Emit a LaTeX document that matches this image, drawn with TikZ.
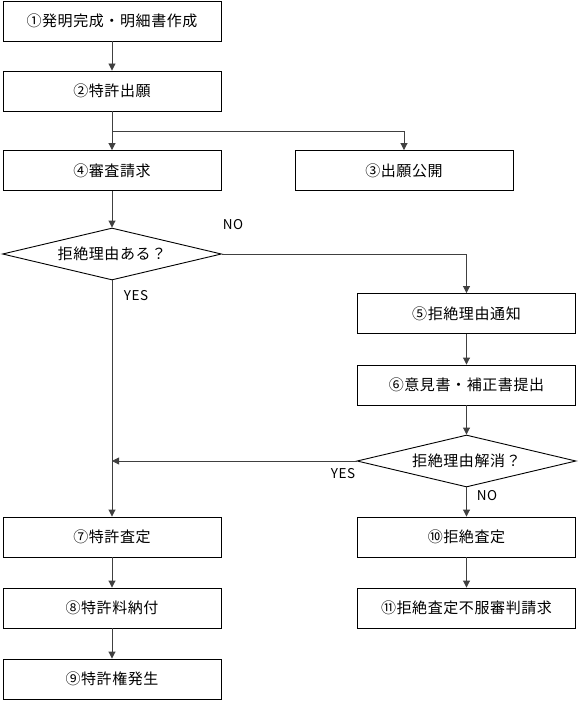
\documentclass[tikz,border=0pt]{standalone}
\usepackage{fontspec}
\setmainfont{Noto Sans CJK JP}[LetterSpace=4]
\usetikzlibrary{shapes.geometric,arrows.meta}

\begin{document}
\begin{tikzpicture}[x=1pt,y=-1pt,
                    stepbox/.style={rectangle, draw=black, line width=0.9pt, minimum width=218pt, minimum height=40pt, inner sep=0pt, font=\fontsize{15}{17}\selectfont},
                    askbox/.style={diamond, draw=black, line width=0.9pt, aspect=4, minimum width=219pt, minimum height=52pt, inner sep=0pt, font=\fontsize{15}{17}\selectfont},
                    answer/.style={inner sep=0pt, font=\fontsize{13.5}{15}\selectfont},
                    flow/.style={draw=black!75, line width=0.9pt, -{Triangle[width=7pt,length=7pt]}},
                ]
                    \useasboundingbox (0,0) rectangle (578,701);
                    %Nodes
                    \node[stepbox](invent) at (112,21) {①発明完成・明細書作成};
                    \node[stepbox](apply) at (112,91) {②特許出願};
                    \node[stepbox](request) at (112,170.5) {④審査請求};
                    \node[stepbox](publish) at (404,170.5) {③出願公開};
                    \node[askbox](reason) at (112,254) {拒絶理由ある？};
                    \node[stepbox](notice) at (466.5,313.5) {⑤拒絶理由通知};
                    \node[stepbox](reply) at (466.5,385) {⑥意見書・補正書提出};
                    \node[askbox](resolved) at (466.5,461) {拒絶理由解消？};
                    \node[stepbox](grant) at (112,537) {⑦特許査定};
                    \node[stepbox](fee) at (112,608) {⑧特許料納付};
                    \node[stepbox](right) at (112,679) {⑨特許権発生};
                    \node[stepbox](reject) at (466.5,537) {⑩拒絶査定};
                    \node[stepbox](appeal) at (466.5,608) {⑪拒絶査定不服審判請求};
                    \coordinate (fork) at (112,131);

                    %Labels
                    \node[answer](no1) at (233,225) {NO};
                    \node[answer](yes1) at (136,296) {YES};
                    \node[answer](yes2) at (343,474) {YES};
                    \node[answer](no2) at (487,496) {NO};

                    %Lines
                    \draw[flow](invent.south) -- (apply.north);
                    \draw[flow](apply.south) -- (request.north);
                    \draw[flow](fork) -| (publish.north);
                    \draw[flow](request.south) -- (reason.north);
                    \draw[flow](reason.east) -| (notice.north);
                    \draw[flow](reason.south) -- (grant.north);
                    \draw[flow](notice.south) -- (reply.north);
                    \draw[flow](reply.south) -- (resolved.north);
                    \draw[flow](resolved.west) -- (resolved.west -| grant.north);
                    \draw[flow](resolved.south) -- (reject.north);
                    \draw[flow](grant.south) -- (fee.north);
                    \draw[flow](fee.south) -- (right.north);
                    \draw[flow](reject.south) -- (appeal.north);
                \end{tikzpicture}
\end{document}
